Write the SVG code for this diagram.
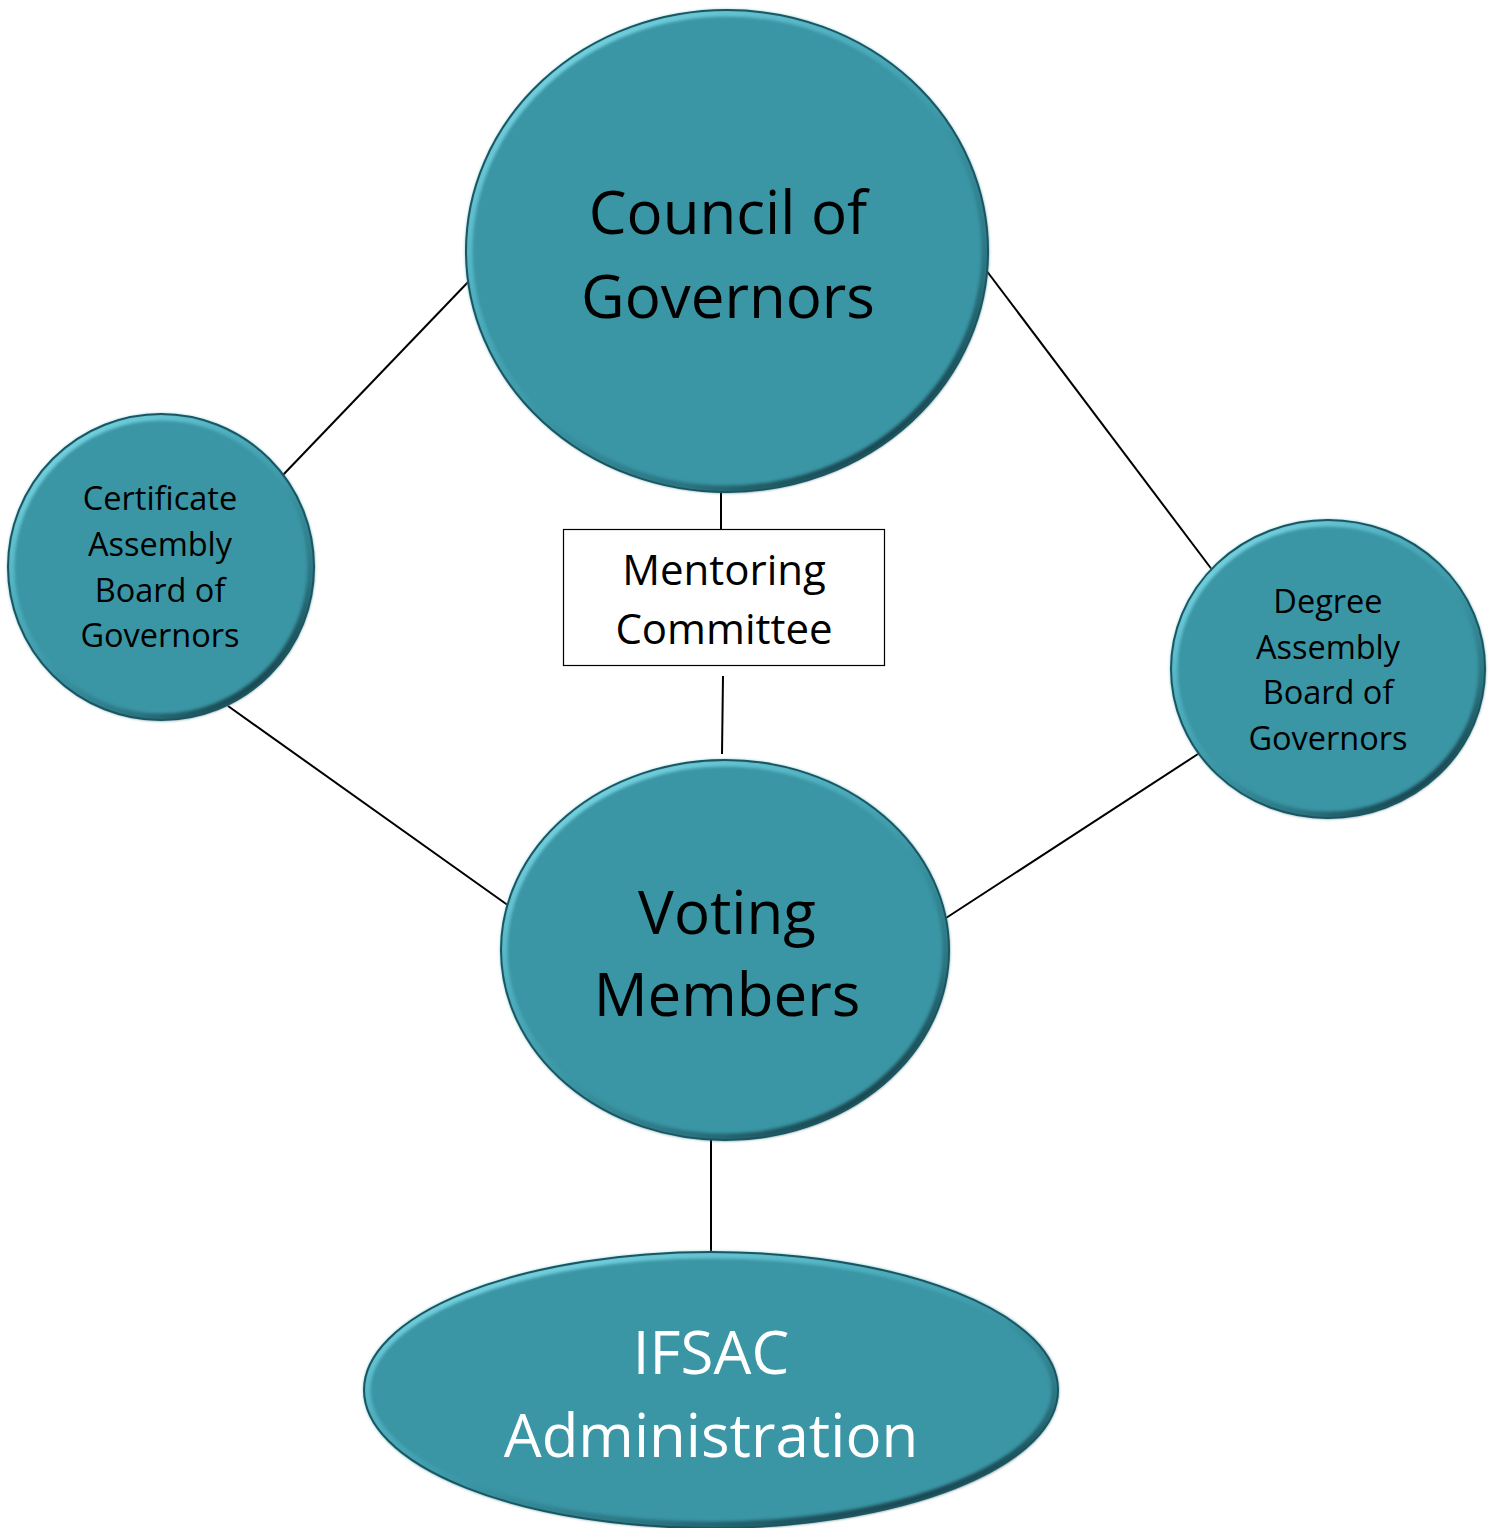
<svg xmlns="http://www.w3.org/2000/svg" width="1494" height="1528" viewBox="0 0 1494 1528">
  <defs>
    <linearGradient id="bevel" x1="0.15" y1="0.05" x2="0.85" y2="0.95">
      <stop offset="0" stop-color="#7AD6E4"/>
      <stop offset="0.3" stop-color="#4FB0C0"/>
      <stop offset="0.55" stop-color="#3A95A4"/>
      <stop offset="0.8" stop-color="#2A7380"/>
      <stop offset="1" stop-color="#12383F"/>
    </linearGradient>
    <filter id="soft" x="-5%" y="-5%" width="110%" height="110%">
      <feGaussianBlur stdDeviation="1.6"/>
    </filter>
  </defs>
  <style>
    .node { fill: #3A95A4; }
    .edge { fill: none; stroke: url(#bevel); stroke-width: 7; filter: url(#soft); }
    .rim { fill: none; stroke: #1A5560; stroke-width: 2; }
    .conn line { stroke: #000; stroke-width: 2; }
    .big { font-family: "Open Sans", "Noto Sans", sans-serif; font-size: 60px; text-anchor: middle; fill: #000; }
    .small { font-family: "Open Sans", "Noto Sans", sans-serif; font-size: 32.5px; text-anchor: middle; fill: #000; }
    .mid { font-family: "Open Sans", "Noto Sans", sans-serif; font-size: 42px; text-anchor: middle; fill: #000; }
    .white { fill: #FFFFFF; }
  </style>
  <rect width="1494" height="1528" fill="#FFFFFF"/>

  <g id="connectors" class="conn">
    <line x1="282" y1="476" x2="470" y2="280"/>
    <line x1="986" y1="270" x2="1213" y2="571"/>
    <line x1="228" y1="706" x2="509" y2="906"/>
    <line x1="946" y1="918" x2="1198" y2="754"/>
    <line x1="721" y1="490" x2="721" y2="529" stroke-width="1.5"/>
    <line x1="723" y1="676" x2="722" y2="754" stroke-width="1.5"/>
    <line x1="711" y1="1136" x2="711" y2="1252" stroke-width="1.5"/>
  </g>

  <g id="council">
    <ellipse class="node" cx="727" cy="251" rx="261" ry="241"/>
    <ellipse class="edge" cx="727" cy="251" rx="258" ry="238"/>
    <ellipse class="rim" cx="727" cy="251" rx="261" ry="241"/>
    <text class="big" x="728" y="234">Council of</text>
    <text class="big" x="728" y="318">Governors</text>
  </g>

  <g id="certificate">
    <ellipse class="node" cx="161" cy="567" rx="153" ry="153"/>
    <ellipse class="edge" cx="161" cy="567" rx="150" ry="150"/>
    <ellipse class="rim" cx="161" cy="567" rx="153" ry="153"/>
    <text class="small" x="160" y="510">Certificate</text>
    <text class="small" x="160" y="556">Assembly</text>
    <text class="small" x="160" y="602">Board of</text>
    <text class="small" x="160" y="647">Governors</text>
  </g>

  <g id="degree">
    <ellipse class="node" cx="1328" cy="669" rx="157" ry="149"/>
    <ellipse class="edge" cx="1328" cy="669" rx="154" ry="146"/>
    <ellipse class="rim" cx="1328" cy="669" rx="157" ry="149"/>
    <text class="small" x="1328" y="613">Degree</text>
    <text class="small" x="1328" y="659">Assembly</text>
    <text class="small" x="1328" y="704">Board of</text>
    <text class="small" x="1328" y="750">Governors</text>
  </g>

  <g id="mentoring">
    <rect x="563.5" y="529.5" width="321" height="136" fill="#FFFFFF" stroke="#000" stroke-width="1.2"/>
    <text class="mid" x="724" y="585">Mentoring</text>
    <text class="mid" x="724" y="644">Committee</text>
  </g>

  <g id="voting">
    <ellipse class="node" cx="725" cy="950" rx="224" ry="190"/>
    <ellipse class="edge" cx="725" cy="950" rx="221" ry="187"/>
    <ellipse class="rim" cx="725" cy="950" rx="224" ry="190"/>
    <text class="big" x="727" y="934">Voting</text>
    <text class="big" x="727" y="1016">Members</text>
  </g>

  <g id="ifsac">
    <ellipse class="node" cx="711" cy="1390" rx="347" ry="138"/>
    <ellipse class="edge" cx="711" cy="1390" rx="344" ry="135"/>
    <ellipse class="rim" cx="711" cy="1390" rx="347" ry="138"/>
    <text class="big white" x="711" y="1374">IFSAC</text>
    <text class="big white" x="711" y="1457">Administration</text>
  </g>
</svg>
